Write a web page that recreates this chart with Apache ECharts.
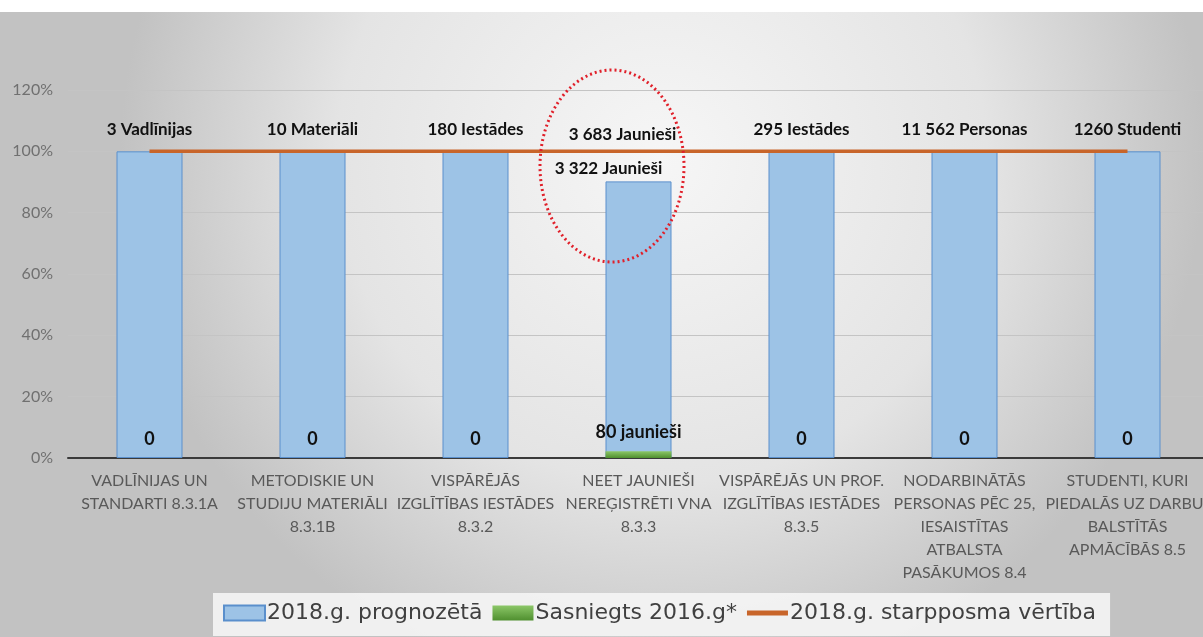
<!DOCTYPE html>
<html>
<head>
<meta charset="utf-8">
<script src="https://cdn.jsdelivr.net/npm/echarts@6/dist/echarts.min.js"></script>
<style>
  html, body { margin: 0; padding: 0; background: #fff; }
  #chart { width: 1203px; height: 637px; }
</style>
</head>
<body>
<div id="chart"></div>
<script>
// categories (x axis)
const categories = [
  'VADLĪNIJAS UN\nSTANDARTI 8.3.1A',
  'METODISKIE UN\nSTUDIJU MATERIĀLI\n8.3.1B',
  'VISPĀRĒJĀS\nIZGLĪTĪBAS IESTĀDES\n8.3.2',
  'NEET JAUNIEŠI\nNEREĢISTRĒTI VNA\n8.3.3',
  'VISPĀRĒJĀS UN PROF.\nIZGLĪTĪBAS IESTĀDES\n8.3.5',
  'NODARBINĀTĀS\nPERSONAS PĒC 25,\nIESAISTĪTAS\nATBALSTA\nPASĀKUMOS 8.4',
  'STUDENTI, KURI\nPIEDALĀS UZ DARBU-\nBALSTĪTĀS\nAPMĀCĪBĀS 8.5'
]

// values in % of the 2018 target
const prognozeta = [100, 100, 100, 90.2, 100, 100, 100]
const sasniegts = [0, 0, 0, 2.2, 0, 0, 0]
const starpposma = [100, 100, 100, 100, 100, 100, 100]

// text labels
const starpposmaLabels = ['3 Vadlīnijas', '10 Materiāli', '180 Iestādes', '3 683 Jaunieši', '295 Iestādes', '11 562 Personas', '1260 Studenti']
const prognozetaLabels = ['', '', '', '3 322 Jaunieši', '', '', '']
const sasniegtsLabels = ['0', '0', '0', '80 jaunieši', '0', '0', '0']

const seriesNames = ['2018.g. prognozētā', 'Sasniegts 2016.g*', '2018.g. starpposma vērtība']

const font = 'Lato, "Open Sans", sans-serif'

const chart = echarts.init(document.getElementById('chart'))

chart.setOption({
  animation: false,
  backgroundColor: {
    type: 'radial', x: 0.55, y: 0.25, r: 0.85,
    colorStops: [
      { offset: 0, color: '#f6f6f6' },
      { offset: 0.6, color: '#e4e4e4' },
      { offset: 1, color: '#c2c2c2' }
    ]
  },
  textStyle: { fontFamily: font },
  graphic: [
    { type: 'rect', left: 0, top: 0, shape: { width: 1203, height: 12 }, style: { fill: '#ffffff' }, z: 100 },
    {
      type: 'ellipse',
      shape: { cx: 612, cy: 166, rx: 72, ry: 96 },
      style: { fill: 'none', stroke: '#e0202a', lineWidth: 3, lineDash: [2, 3] },
      z: 100
    }
  ],
  grid: { left: 68, right: -6, top: 90, bottom: 179, outerBoundsMode: 'none' },
  legend: {
    left: 213,
    top: 593,
    backgroundColor: 'rgba(244,244,244,0.92)',
    padding: [9, 14, 12, 10],
    itemGap: 10,
    itemWidth: 41,
    itemHeight: 15,
    textStyle: { fontSize: 22, color: '#404040', fontFamily: '"DejaVu Sans", sans-serif', padding: [0, 0, 0, -3] },
    data: [
      { name: seriesNames[0], icon: 'rect' },
      { name: seriesNames[1], icon: 'rect' },
      { name: seriesNames[2], icon: 'path://M0,0 L41,0 L41,5 L0,5 Z', itemStyle: { color: '#c8652a' } }
    ]
  },
  xAxis: {
    type: 'category',
    data: categories,
    axisTick: { show: false },
    axisLine: { lineStyle: { color: '#3a3a3a', width: 2 } },
    axisLabel: { interval: 0, color: '#595959', fontSize: 16, lineHeight: 23, margin: 11, fontFamily: font }
  },
  yAxis: {
    type: 'value',
    min: 0,
    max: 120,
    interval: 20,
    axisLabel: { formatter: '{value}%', color: '#707070', fontSize: 16, margin: 15, fontFamily: font },
    splitLine: { lineStyle: { color: '#c4c4c4', width: 1 } },
    axisLine: { show: false },
    axisTick: { show: false }
  },
  series: [
    {
      name: seriesNames[0],
      type: 'bar',
      barWidth: 66,
      barGap: '-100%',
      itemStyle: { color: '#9dc3e6', borderColor: '#5a8fcc', borderWidth: 1 },
      data: prognozeta.map((v, i) => ({
        value: v,
        label: {
          show: prognozetaLabels[i] !== '',
          position: 'top',
          distance: 4,
          offset: [-30, 0],
          formatter: prognozetaLabels[i],
          fontSize: 17,
          fontWeight: 'bold',
          color: '#111'
        }
      }))
    },
    {
      name: seriesNames[1],
      type: 'bar',
      barWidth: 66,
      itemStyle: {
        color: {
          type: 'linear', x: 0, y: 0, x2: 0, y2: 1,
          colorStops: [{ offset: 0, color: '#8cc768' }, { offset: 1, color: '#4f8f2f' }]
        }
      },
      label: {
        show: true,
        position: 'top',
        distance: 10,
        fontSize: 18,
        fontWeight: 'bold',
        color: '#111',
        formatter: p => sasniegtsLabels[p.dataIndex]
      },
      data: sasniegts
    },
    {
      name: seriesNames[2],
      type: 'line',
      symbol: 'circle',
      symbolSize: 0,
      showSymbol: true,
      lineStyle: { color: '#c8652a', width: 3.5 },
      itemStyle: { color: '#c8652a' },
      label: {
        show: true,
        position: 'top',
        distance: 13,
        fontSize: 17,
        fontWeight: 'bold',
        color: '#111',
        formatter: p => starpposmaLabels[p.dataIndex]
      },
      data: starpposma.map((v, i) => ({
        value: v,
        label: { offset: i === 3 ? [-16, 5] : [0, 0] }
      })),
      z: 5
    }
  ]
})
</script>
</body>
</html>
